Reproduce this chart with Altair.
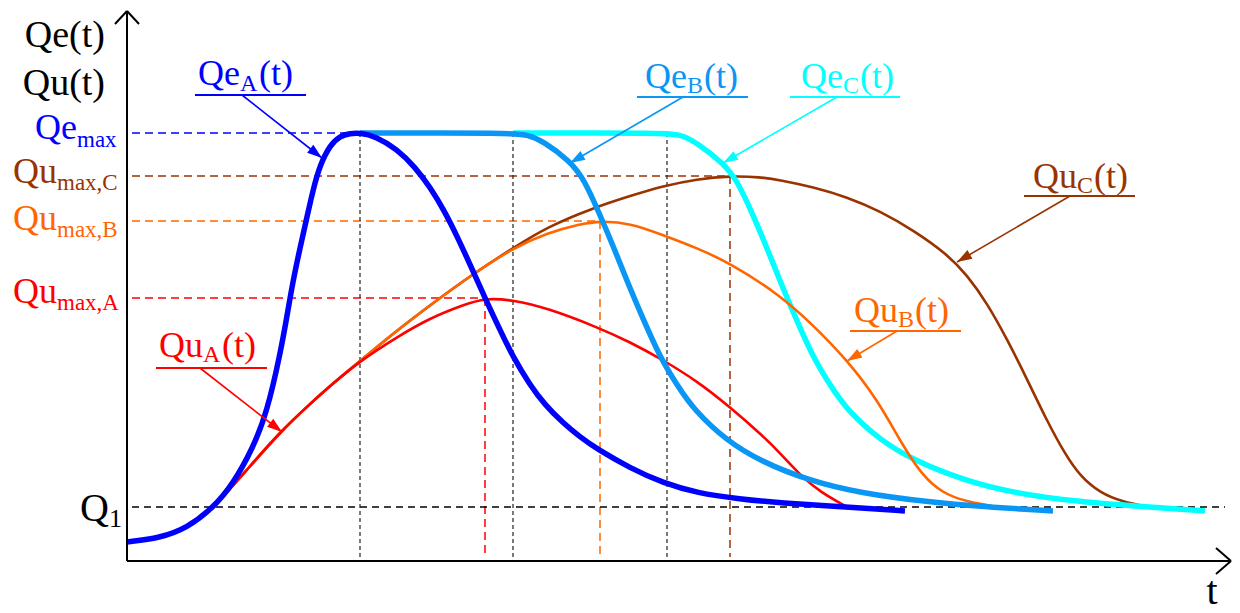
import math
import altair as alt
import pandas as pd

# ---------------- data (t: time units, Q: flow units) ----------------
# Inflow hydrographs Qe(t)
qe_a = [(0.00, 0.19), (0.33, 0.23), (0.60, 0.33), (0.86, 0.53), (1.06, 0.77), (1.26, 1.13),
        (1.40, 1.49), (1.53, 2.06), (1.60, 2.45), (1.66, 2.80), (1.73, 3.13), (1.80, 3.44),
        (1.86, 3.71), (1.93, 3.96), (2.03, 4.16), (2.13, 4.25), (2.23, 4.275), (2.33, 4.28),
        (2.48, 4.25), (2.70, 4.12), (2.88, 3.94), (3.03, 3.74), (3.18, 3.49), (3.30, 3.25),
        (3.46, 2.90), (3.58, 2.63), (3.73, 2.31), (3.86, 2.04), (4.03, 1.76), (4.18, 1.56),
        (4.36, 1.38), (4.53, 1.24), (4.70, 1.12), (5.03, 0.93), (5.36, 0.78), (5.70, 0.68),
        (6.13, 0.62), (6.53, 0.58), (7.20, 0.54), (7.78, 0.50)]
qe_b = [(2.33, 4.28), (3.86, 4.28), (4.01, 4.26), (4.16, 4.20), (4.43, 4.00), (4.57, 3.82),
        (4.73, 3.46), (4.87, 3.13), (5.00, 2.80), (5.17, 2.40), (5.33, 2.04), (5.50, 1.76),
        (5.67, 1.51), (6.00, 1.20), (6.33, 1.00), (6.83, 0.80), (7.33, 0.68), (8.00, 0.59),
        (8.60, 0.54), (9.26, 0.50)]
qe_c = [(3.86, 4.28), (5.40, 4.28), (5.55, 4.26), (5.70, 4.18), (5.96, 3.98), (6.10, 3.81),
        (6.26, 3.46), (6.40, 3.13), (6.53, 2.80), (6.70, 2.40), (6.86, 2.04), (7.03, 1.76),
        (7.20, 1.51), (7.53, 1.21), (7.86, 1.01), (8.36, 0.81), (8.86, 0.68), (9.53, 0.59),
        (10.20, 0.54), (10.78, 0.50)]
# Outflow hydrographs Qu(t)
qu_rise = [(0.86, 0.53), (1.18, 0.89), (1.53, 1.29), (1.83, 1.57), (2.03, 1.75), (2.33, 2.00)]
qu_a = qu_rise + [(2.70, 2.24), (3.03, 2.43), (3.36, 2.56), (3.58, 2.63), (3.86, 2.61),
                  (4.20, 2.53), (4.70, 2.34), (5.03, 2.19), (5.36, 2.01), (5.70, 1.80),
                  (6.03, 1.54), (6.36, 1.25), (6.53, 1.08), (6.73, 0.86), (6.93, 0.69), (7.20, 0.54)]
qu_bc_rise = qu_rise + [(2.68, 2.29), (3.06, 2.58), (3.46, 2.87), (3.86, 3.13)]
qu_b = qu_bc_rise + [(4.20, 3.28), (4.53, 3.37), (4.73, 3.40), (5.03, 3.38), (5.36, 3.26),
                     (5.70, 3.13), (6.03, 2.98), (6.53, 2.66), (6.86, 2.36), (7.20, 2.01),
                     (7.50, 1.62), (7.76, 1.15), (7.95, 0.86), (8.15, 0.68), (8.40, 0.59), (8.71, 0.54)]
qu_c = qu_bc_rise + [(4.20, 3.34), (4.66, 3.53), (5.03, 3.65), (5.36, 3.75), (5.70, 3.82),
                     (6.03, 3.85), (6.33, 3.84), (6.53, 3.81), (6.86, 3.74), (7.20, 3.64),
                     (7.53, 3.50), (7.86, 3.31), (8.20, 3.07), (8.40, 2.86), (8.60, 2.58),
                     (8.80, 2.22), (9.00, 1.82), (9.20, 1.40), (9.38, 1.07), (9.53, 0.85),
                     (9.73, 0.68), (9.96, 0.59), (10.21, 0.54)]

# reference levels and times
QE_MAX, QU_MAX_C, QU_MAX_B, QU_MAX_A, Q1 = 4.28, 3.85, 3.40, 2.63, 0.54
T_PEAK_A, T_END_B, T_END_C = 2.33, 3.86, 5.40
T_QU_A, T_QU_B, T_QU_C = 3.58, 4.73, 6.03
T_AXIS_END, Q_AXIS_END = 11.04, 5.50

# colours
BLUE, LBLUE, CYAN = "#0000FF", "#0A96F5", "#00FFFF"
RED, ORANGE, BROWN = "#FF0000", "#FF6600", "#993300"

# curve labels: main, sub, tail, split_t, tail_t, base_q, sub_q, colour,
#               underline (t0, t1, q), leader start (t, q), arrow tip (t, q)
curve_labels = [
    ("Qe", "A", "(t)", 1.13, 1.32, 4.76, 4.70, BLUE, (0.68, 1.79, 4.66), (1.15, 4.66), (1.95, 4.03)),
    ("Qe", "B", "(t)", 5.60, 5.77, 4.73, 4.68, LBLUE, (5.10, 6.21, 4.64), (5.56, 4.64), (4.43, 3.98)),
    ("Qe", "C", "(t)", 7.16, 7.33, 4.73, 4.68, CYAN, (6.63, 7.73, 4.64), (7.10, 4.64), (5.96, 3.98)),
    ("Qu", "C", "(t)", 9.50, 9.67, 3.73, 3.68, BROWN, (8.97, 10.08, 3.65), (9.43, 3.65), (8.30, 2.99)),
    ("Qu", "B", "(t)", 7.71, 7.88, 2.39, 2.34, ORANGE, (7.23, 8.34, 2.30), (7.70, 2.30), (7.20, 2.00)),
    ("Qu", "A", "(t)", 0.76, 0.95, 2.04, 1.99, RED, (0.29, 1.40, 1.93), (0.73, 1.93), (1.55, 1.29)),
]
# level labels on the Q axis: main, sub, split_t, base_q, sub_q, colour, main size, sub size
level_labels = [
    ("Qe", "max", -0.50, 4.22, 4.14, BLUE, 36, 23),
    ("Qu", "max,C", -0.70, 3.78, 3.71, BROWN, 36, 23),
    ("Qu", "max,B", -0.70, 3.31, 3.24, ORANGE, 36, 23),
    ("Qu", "max,A", -0.70, 2.58, 2.51, RED, 36, 23),
    ("Q", "1", -0.18, 0.40, 0.34, "#000000", 40, 26),
]
axis_titles = [("Qe(t)", -0.22, 5.14), ("Qu(t)", -0.22, 4.66)]
t_title = ("t", 10.85, -0.43)

# ---------------- helpers ----------------
FONT = "Liberation Serif, Times New Roman, Times, serif"
XS = alt.Scale(domain=[-1.19, 11.05], nice=False, zero=False)
YS = alt.Scale(domain=[-0.44, 5.53], nice=False, zero=False)


def curve(pts, color, width):
    df = pd.DataFrame(pts, columns=["t", "q"])
    return alt.Chart(df).mark_line(color=color, strokeWidth=width, interpolate="basis").encode(
        x=alt.X("t:Q", scale=XS, axis=None), y=alt.Y("q:Q", scale=YS, axis=None))


def segs(rows, color, width, dash=None):
    df = pd.DataFrame(rows, columns=["x0", "y0", "x1", "y1"])
    kw = dict(color=color, strokeWidth=width)
    if dash:
        kw["strokeDash"] = dash
    return alt.Chart(df).mark_rule(**kw).encode(
        x=alt.X("x0:Q", scale=XS, axis=None), y=alt.Y("y0:Q", scale=YS, axis=None),
        x2="x1:Q", y2="y1:Q")


def text(s, t, q, color, size, align):
    df = pd.DataFrame({"t": [t], "q": [q], "s": [s]})
    return alt.Chart(df).mark_text(font=FONT, fontSize=size, color=color, align=align,
                                   baseline="alphabetic").encode(
        x=alt.X("t:Q", scale=XS, axis=None), y=alt.Y("q:Q", scale=YS, axis=None), text="s:N")


layers = []

# dashed reference lines
layers.append(segs([(0.05, QE_MAX, T_PEAK_A, QE_MAX)], BLUE, 1.4, [8, 5]))
layers.append(segs([(0.05, QU_MAX_C, T_QU_C, QU_MAX_C), (T_QU_C, QU_MAX_C, T_QU_C, 0.04)], BROWN, 1.5, [8, 5]))
layers.append(segs([(0.05, QU_MAX_B, T_QU_B, QU_MAX_B), (T_QU_B, QU_MAX_B, T_QU_B, 0.04)], ORANGE, 1.5, [8, 5]))
layers.append(segs([(0.05, QU_MAX_A, T_QU_A, QU_MAX_A), (T_QU_A, QU_MAX_A, T_QU_A, 0.04)], RED, 1.5, [8, 5]))
layers.append(segs([(0.05, Q1, 10.98, Q1)], "#000000", 1.6, [7, 5]))
layers.append(segs([(T_PEAK_A, QE_MAX, T_PEAK_A, 0.02), (T_END_B, QE_MAX, T_END_B, 0.02),
                    (T_END_C, QE_MAX, T_END_C, 0.02)], "#222222", 1.2, [4, 3]))

# curves
layers.append(curve(qu_c, BROWN, 2.6))
layers.append(curve(qe_c, CYAN, 5.5))
layers.append(curve(qu_b, ORANGE, 2.6))
layers.append(curve(qu_a, RED, 2.6))
layers.append(curve(qe_b, LBLUE, 5.5))
layers.append(curve(qe_a, BLUE, 5.5))

# curve labels with underline, leader and arrow head
ARROW = "M0,0L0.5,1.5L-0.5,1.5Z"
heads = []
for main, sub, tail, st, tt, bq, sq, col, ul, ls, tip in curve_labels:
    layers.append(segs([(ul[0], ul[2], ul[1], ul[2])], col, 2))
    layers.append(segs([(ls[0], ls[1], tip[0], tip[1])], col, 1.6))
    ang = (math.degrees(math.atan2(tip[0] - ls[0], tip[1] - ls[1])) + 360) % 360
    heads.append({"t": tip[0], "q": tip[1], "c": col, "a": ang})
    layers.append(text(main, st, bq, col, 36, "right"))
    layers.append(text(sub, st, sq, col, 24, "left"))
    layers.append(text(tail, tt, bq, col, 36, "left"))

layers.append(alt.Chart(pd.DataFrame(heads)).mark_point(
    shape=ARROW, filled=True, opacity=1, size=400, strokeWidth=0).encode(
    x=alt.X("t:Q", scale=XS, axis=None), y=alt.Y("q:Q", scale=YS, axis=None),
    color=alt.Color("c:N", scale=None), angle=alt.Angle("a:Q", scale=None)))

for main, sub, st, bq, sq, col, ms, ss in level_labels:
    layers.append(text(main, st, bq, col, ms, "right"))
    layers.append(text(sub, st, sq, col, ss, "left"))

for s, t, q in axis_titles:
    layers.append(text(s, t, q, "#000000", 38, "right"))
layers.append(text(t_title[0], t_title[1], t_title[2], "#000000", 40, "center"))

# axes with open arrow heads
layers.append(segs([(0, 0, T_AXIS_END, 0), (0, 0, 0, Q_AXIS_END),
                    (T_AXIS_END - 0.15, 0.13, T_AXIS_END, 0), (T_AXIS_END - 0.15, -0.13, T_AXIS_END, 0),
                    (-0.12, Q_AXIS_END - 0.13, 0, Q_AXIS_END), (0.12, Q_AXIS_END - 0.13, 0, Q_AXIS_END)],
                   "#000000", 2))

chart = alt.layer(*layers).properties(
    width=1224, height=597, padding=0, background="white",
    autosize=alt.AutoSizeParams(type="none"),
).configure_view(stroke=None)

chart.save("out.html", embed_options={"renderer": "svg", "actions": False})
